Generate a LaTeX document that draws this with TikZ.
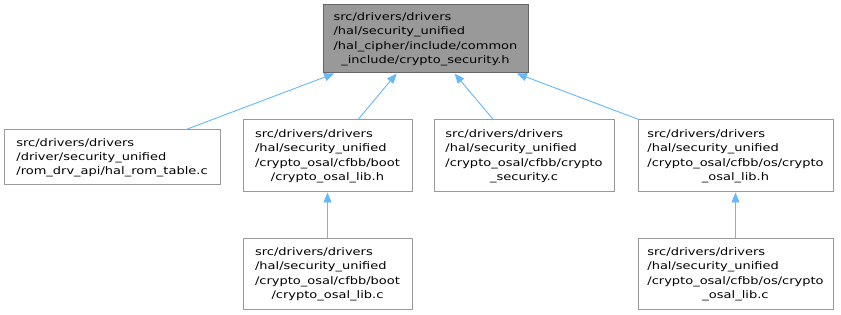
\documentclass[tikz,border=0pt]{standalone}
\usepackage{fontspec}
\setmainfont{DejaVu Sans}[FakeStretch=1.25]
\usetikzlibrary{arrows.meta}
\definecolor{edgeblue}{HTML}{63B8FF}
\definecolor{bordergray}{HTML}{999999}
\definecolor{topfill}{HTML}{999999}
\definecolor{topborder}{HTML}{666666}
\newcommand{\filebox}[2]{{\fontsize{10.4}{14.3}\selectfont\begin{tabular}{@{}l@{}}#1\\\multicolumn{1}{@{}c@{}}{#2}\end{tabular}}}
\tikzset{
  filenode/.style={draw=bordergray, fill=white, line width=1pt, inner sep=0pt, text=black},
  topnode/.style={draw=topborder, fill=topfill, line width=1pt, inner sep=0pt, text=black},
  dep/.style={draw=edgeblue, line width=0.9pt, -{Triangle[length=10pt,width=8pt]}}
}
\begin{document}
\begin{tikzpicture}[x=1pt,y=-1pt]
\useasboundingbox (0,0) rectangle (841,315);
\node[topnode, minimum width=205pt, minimum height=68pt] (top) at (425.5,39)
  {\filebox{src/drivers/drivers\\/hal/security\_unified\\/hal\_cipher/include/common}{\_include/crypto\_security.h}};
\node[filenode, minimum width=216pt, minimum height=55pt] (a) at (112,157.5)
  {\filebox{src/drivers/drivers\\/driver/security\_unified}{/rom\_drv\_api/hal\_rom\_table.c}};
\node[filenode, minimum width=169pt, minimum height=72pt] (b) at (327.5,156)
  {\filebox{src/drivers/drivers\\/hal/security\_unified\\/crypto\_osal/cfbb/boot}{/crypto\_osal\_lib.h}};
\node[filenode, minimum width=180pt, minimum height=72pt] (c) at (524,156)
  {\filebox{src/drivers/drivers\\/hal/security\_unified\\/crypto\_osal/cfbb/crypto}{\_security.c}};
\node[filenode, minimum width=195pt, minimum height=72pt] (d) at (735.5,156)
  {\filebox{src/drivers/drivers\\/hal/security\_unified\\/crypto\_osal/cfbb/os/crypto}{\_osal\_lib.h}};
\node[filenode, minimum width=169pt, minimum height=70pt] (e) at (327.5,274)
  {\filebox{src/drivers/drivers\\/hal/security\_unified\\/crypto\_osal/cfbb/boot}{/crypto\_osal\_lib.c}};
\node[filenode, minimum width=195pt, minimum height=70pt] (f) at (735.5,274)
  {\filebox{src/drivers/drivers\\/hal/security\_unified\\/crypto\_osal/cfbb/os/crypto}{\_osal\_lib.c}};
\draw[dep] (a) -- (top);
\draw[dep] (b) -- (top);
\draw[dep] (c) -- (top);
\draw[dep] (d) -- (top);
\draw[dep] (e) -- (b);
\draw[dep] (f) -- (d);
\end{tikzpicture}
\end{document}
